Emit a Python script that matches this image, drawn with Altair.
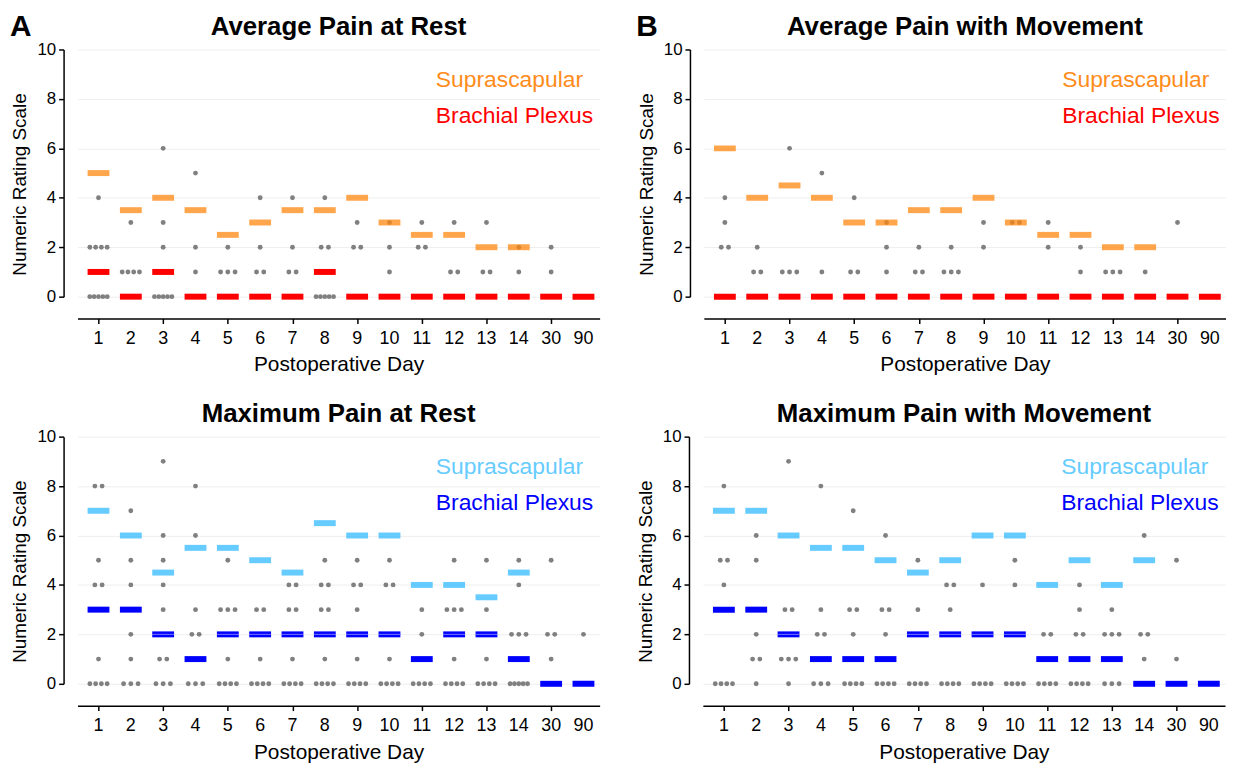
import altair as alt
import pandas as pd

DAYS = ["1", "2", "3", "4", "5", "6", "7", "8", "9", "10", "11", "12", "13", "14", "30", "90"]

# ---- Panel A: Average Pain at Rest ----
A_TITLE = "Average Pain at Rest"
A_SUPRA = [5, 3.5, 4, 3.5, 2.5, 3, 3.5, 3.5, 4, 3, 2.5, 2.5, 2, 2, None, None]
A_BRACH = [1, 0, 1, 0, 0, 0, 0, 1, 0, 0, 0, 0, 0, 0, 0, 0]
A_DOTS = [
    [(0, 5), (2, 4), (4, 1)],
    [(1, 4), (3, 1)],
    [(0, 5), (2, 1), (3, 1), (6, 1)],
    [(1, 1), (2, 1), (5, 1)],
    [(1, 3), (2, 1)],
    [(1, 2), (2, 1), (4, 1)],
    [(1, 2), (2, 1), (4, 1)],
    [(0, 5), (2, 2), (4, 1)],
    [(2, 2), (3, 1)],
    [(1, 1), (2, 1), (3, 1)],
    [(2, 2), (3, 1)],
    [(1, 2), (3, 1)],
    [(1, 2), (3, 1)],
    [(1, 1), (2, 1)],
    [(1, 1), (2, 1)],
    [],
]

# ---- Panel B: Average Pain with Movement ----
B_TITLE = "Average Pain with Movement"
B_SUPRA = [6, 4, 4.5, 4, 3, 3, 3.5, 3.5, 4, 3, 2.5, 2.5, 2, 2, None, None]
B_BRACH = [0, 0, 0, 0, 0, 0, 0, 0, 0, 0, 0, 0, 0, 0, 0, 0]
B_DOTS = [
    [(2, 2), (3, 1), (4, 1)],
    [(1, 2), (2, 1)],
    [(1, 3), (6, 1)],
    [(1, 1), (5, 1)],
    [(1, 2), (4, 1)],
    [(1, 1), (2, 1), (3, 1)],
    [(1, 2), (2, 1)],
    [(1, 3), (2, 1)],
    [(2, 1), (3, 1)],
    [(3, 2)],
    [(2, 1), (3, 1)],
    [(1, 1), (2, 1)],
    [(1, 3)],
    [(1, 1)],
    [(3, 1)],
    [],
]

# ---- Panel C: Maximum Pain at Rest ----
C_TITLE = "Maximum Pain at Rest"
C_SUPRA = [7, 6, 4.5, 5.5, 5.5, 5, 4.5, 6.5, 6, 6, 4, 4, 3.5, 4.5, None, None]
C_BRACH = [3, 3, 2, 1, 2, 2, 2, 2, 2, 2, 1, 2, 2, 1, 0, 0]
C_DOTS = [
    [(0, 4), (1, 1), (4, 2), (5, 1), (8, 2)],
    [(0, 3), (1, 1), (2, 1), (4, 1), (5, 1), (7, 1)],
    [(0, 3), (1, 2), (3, 1), (4, 1), (5, 1), (6, 1), (9, 1)],
    [(0, 3), (2, 2), (3, 1), (6, 1), (8, 1)],
    [(0, 4), (1, 1), (3, 3), (5, 1)],
    [(0, 4), (1, 1), (3, 2)],
    [(0, 4), (1, 1), (3, 2), (4, 2)],
    [(0, 4), (1, 1), (3, 2), (4, 2), (5, 1)],
    [(0, 4), (1, 1), (3, 1), (4, 2), (5, 1)],
    [(0, 4), (1, 1), (4, 2), (5, 1)],
    [(0, 4), (2, 1), (3, 1)],
    [(0, 4), (1, 1), (3, 3), (5, 1)],
    [(0, 4), (1, 1), (3, 1), (5, 1)],
    [(0, 5), (2, 3), (4, 1), (5, 1)],
    [(1, 1), (2, 2), (5, 1)],
    [(2, 1)],
]

# ---- Panel D: Maximum Pain with Movement ----
D_TITLE = "Maximum Pain with Movement"
D_SUPRA = [7, 7, 6, 5.5, 5.5, 5, 4.5, 5, 6, 6, 4, 5, 4, 5, None, None]
D_BRACH = [3, 3, 2, 1, 1, 1, 2, 2, 2, 2, 1, 1, 1, 0, 0, 0]
D_DOTS = [
    [(0, 4), (4, 1), (5, 2), (8, 1)],
    [(0, 1), (1, 2), (2, 1), (5, 1), (6, 1)],
    [(0, 1), (1, 3), (3, 2), (9, 1)],
    [(0, 3), (2, 2), (3, 1), (8, 1)],
    [(0, 4), (2, 1), (3, 2), (7, 1)],
    [(0, 4), (2, 1), (3, 2), (6, 1)],
    [(0, 4), (3, 1), (5, 1)],
    [(0, 4), (3, 1), (4, 2)],
    [(0, 4), (4, 1)],
    [(0, 4), (4, 1), (5, 1)],
    [(0, 4), (2, 2)],
    [(0, 4), (2, 2), (3, 1), (4, 1)],
    [(0, 3), (2, 3), (3, 1)],
    [(1, 1), (2, 2), (6, 1)],
    [(1, 1), (5, 1)],
    [],
]

FONT = "Liberation Sans"
W, H = 526, 249
STEP_PX = 32.6
SPACING_PX = {1: 0, 2: 7.3, 3: 7.3, 4: 5.8, 5: 4.4}


def dots_frame(dots):
    rows = []
    for i, day in enumerate(dots):
        for value, count in day:
            sp = SPACING_PX[count] / STEP_PX
            for j in range(count):
                rows.append({"x": i + (j - (count - 1) / 2) * sp, "y": value})
    return pd.DataFrame(rows)


def med_frame(vals):
    return pd.DataFrame([{"x": i, "y": v} for i, v in enumerate(vals) if v is not None])


DAY_FRAME = pd.DataFrame({"x": list(range(len(DAYS))), "label": DAYS})


def panel(title, letter, supra, brach, dots, s_bar, s_txt, b_col, line_col):
    xs = alt.Scale(domain=[-0.65, 15.5], nice=False, zero=False)
    ys = alt.Scale(domain=[0, 10], nice=False)
    xax = alt.Axis(values=list(range(16)), labels=False, title="Postoperative Day",
                   grid=False, offset=22, titlePadding=30, titleFontSize=21)
    yax = alt.Axis(values=[0, 2, 4, 6, 8, 10], title="Numeric Rating Scale", grid=True,
                   offset=14, labelPadding=3, titlePadding=7, labelFontSize=17,
                   titleFontSize=19, titleY=H / 2 + 11)
    base_x = alt.X("x:Q", scale=xs, axis=xax)
    base_y = alt.Y("y:Q", scale=ys, axis=yax)

    pts = alt.Chart(dots_frame(dots)).mark_circle(color="#808080", size=24, opacity=1).encode(
        x=base_x, y=base_y)
    sb = alt.Chart(med_frame(supra)).mark_tick(orient="horizontal", size=22, thickness=6,
                                               color=s_bar, opacity=0.75).encode(x="x:Q", y="y:Q")
    bb = alt.Chart(med_frame(brach)).mark_tick(orient="horizontal", size=22, thickness=6,
                                               color=b_col, opacity=1).encode(x="x:Q", y="y:Q")
    layers = [pts, sb, bb]
    if line_col:
        ln = alt.Chart(med_frame(brach)).transform_filter("datum.y == 2").mark_tick(
            orient="horizontal", size=22, thickness=1, color=line_col).encode(x="x:Q", y="y:Q")
        layers.append(ln)
    xl = alt.Chart(DAY_FRAME).mark_text(fontSize=18, font=FONT, color="black",
                                        baseline="middle", align="center").encode(
        x="x:Q", y=alt.value(H + 43), text="label:N")
    layers.append(xl)
    one = pd.DataFrame({"a": [0]})
    t1 = alt.Chart(one).mark_text(text="Suprascapular", align="left", baseline="middle",
                                  fontSize=23, font=FONT, color=s_txt).encode(
        x=alt.value(361), y=alt.value(31))
    t2 = alt.Chart(one).mark_text(text="Brachial Plexus", align="left", baseline="middle",
                                  fontSize=23, font=FONT, color=b_col).encode(
        x=alt.value(361), y=alt.value(67))
    tt = alt.Chart(one).mark_text(text=title, align="center", baseline="middle",
                                  fontSize=26, fontWeight="bold", font=FONT, color="black").encode(
        x=alt.value(W / 2), y=alt.value(-23))
    layers += [t1, t2, tt]
    if letter:
        tl = alt.Chart(one).mark_text(text=letter, align="left", baseline="middle",
                                      fontSize=30, fontWeight="bold", font=FONT,
                                      color="black").encode(x=alt.value(-68), y=alt.value(-23))
        layers.append(tl)
    return alt.layer(*layers).properties(width=W, height=H)


ORANGE_BAR, ORANGE_TXT, RED = "#FF8812", "#FF8C1A", "#FF0000"
LBLUE_BAR, LBLUE_TXT, BLUE = "#33BBFF", "#66CCFF", "#0000FF"

pa = panel(A_TITLE, "A", A_SUPRA, A_BRACH, A_DOTS, ORANGE_BAR, ORANGE_TXT, RED, None)
pb = panel(B_TITLE, "B", B_SUPRA, B_BRACH, B_DOTS, ORANGE_BAR, ORANGE_TXT, RED, None)
pc = panel(C_TITLE, "", C_SUPRA, C_BRACH, C_DOTS, LBLUE_BAR, LBLUE_TXT, BLUE, "#A8A8FF")
pd_ = panel(D_TITLE, "", D_SUPRA, D_BRACH, D_DOTS, LBLUE_BAR, LBLUE_TXT, BLUE, "#A8A8FF")

chart = alt.vconcat(
    alt.hconcat(pa, pb, spacing=37),
    alt.hconcat(pc, pd_, spacing=37),
    spacing=26,
).properties(padding={"left": 2, "top": 1, "right": 0, "bottom": 0}).configure_view(
    stroke=None
).configure_axis(
    domainColor="black", domainWidth=1.5, tickColor="black", tickWidth=1.5, tickSize=5,
    labelFont=FONT, titleFont=FONT,
    labelColor="black", titleColor="black", titleFontWeight="normal",
    gridColor="#EEEEEE", gridWidth=1,
)

chart.save("out.html", embed_options={"renderer": "svg", "actions": False})
